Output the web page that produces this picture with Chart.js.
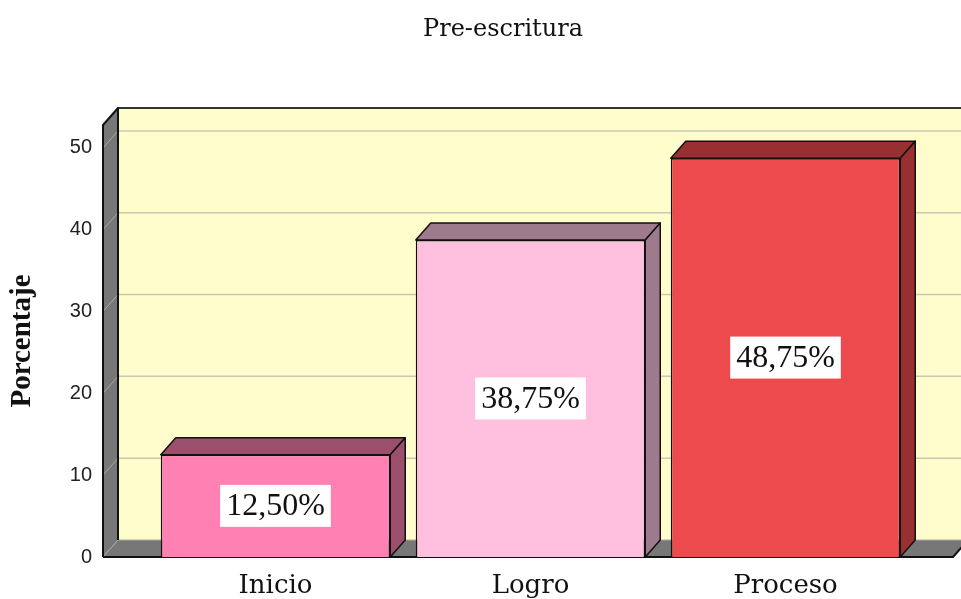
<!DOCTYPE html>
<html lang="es">
<head>
    <meta charset="UTF-8">
    <title>Pre-escritura</title>
    <script src="https://cdn.jsdelivr.net/npm/chart.js"></script>
    <style>
        body { margin: 0; background: #fff; overflow: hidden; }
        #wrap { width: 961px; height: 599px; position: relative; }
    </style>
</head>
<body>
    <div id="wrap"><canvas id="chart"></canvas></div>

    <script>
        // Data
        const chartTitle = "Pre-escritura";
        const categories = ["Inicio", "Logro", "Proceso"];
        const percentages = [12.5, 38.75, 48.75];
        const valueLabels = ["12,50%", "38,75%", "48,75%"];
        const yTicks = [0, 10, 20, 30, 40, 50];

        // Colours of front and shaded faces
        const frontColors = ["#FF80B2", "#FFC0E0", "#EC4A4C"];
        const shadeColors = ["#9B4F6B", "#9F7A8C", "#982F30"];

        const DX = 15, DY = 17; // 3D depth

        // Back wall, left wall, floor and grid lines
        const wallsPlugin = {
            id: "walls",
            beforeDatasetsDraw(chart) {
                const ctx = chart.ctx;
                const a = chart.chartArea;
                const y = chart.scales.y;
                const fl = a.left - 45, fr = a.right + 40;
                ctx.save();
                ctx.lineJoin = "round";

                // back wall
                ctx.fillStyle = "#FFFDCB";
                ctx.fillRect(fl + DX, a.top - DY, fr - fl, a.bottom - a.top);
                ctx.strokeStyle = "#333";
                ctx.lineWidth = 2;
                ctx.beginPath();
                ctx.moveTo(fl + DX, a.top - DY);
                ctx.lineTo(fr + DX, a.top - DY);
                ctx.stroke();

                // grid lines on back wall
                ctx.strokeStyle = "#C9C8B6";
                ctx.lineWidth = 1.5;
                yTicks.forEach(v => {
                    const py = y.getPixelForValue(v);
                    if (v > 0) {
                        ctx.beginPath();
                        ctx.moveTo(fl + DX, py - DY);
                        ctx.lineTo(fr + DX, py - DY);
                        ctx.stroke();
                    }
                });

                // left wall
                ctx.fillStyle = "#777777";
                ctx.beginPath();
                ctx.moveTo(fl, a.top);
                ctx.lineTo(fl + DX, a.top - DY);
                ctx.lineTo(fl + DX, a.bottom - DY);
                ctx.lineTo(fl, a.bottom);
                ctx.closePath();
                ctx.fill();

                // floor
                ctx.beginPath();
                ctx.moveTo(fl, a.bottom);
                ctx.lineTo(fl + DX, a.bottom - DY);
                ctx.lineTo(fr + DX, a.bottom - DY);
                ctx.lineTo(fr, a.bottom);
                ctx.closePath();
                ctx.fill();

                // diagonal grid lines on the left wall
                ctx.strokeStyle = "#A8A8A8";
                ctx.lineWidth = 1;
                yTicks.forEach(v => {
                    const py = y.getPixelForValue(v);
                    ctx.beginPath();
                    ctx.moveTo(fl, py);
                    ctx.lineTo(fl + DX, py - DY);
                    ctx.stroke();
                });
                ctx.beginPath();
                ctx.moveTo(fl + DX, a.bottom - DY);
                ctx.lineTo(fr + DX, a.bottom - DY);
                ctx.stroke();

                // outlines
                ctx.strokeStyle = "#111";
                ctx.lineWidth = 2;
                ctx.beginPath();
                ctx.moveTo(fl, a.bottom);
                ctx.lineTo(fl, a.top);
                ctx.lineTo(fl + DX, a.top - DY);
                ctx.lineTo(fl + DX, a.bottom - DY);
                ctx.stroke();
                ctx.beginPath();
                ctx.moveTo(fl, a.bottom);
                ctx.lineTo(fr, a.bottom);
                ctx.lineTo(fr + DX, a.bottom - DY);
                ctx.stroke();
                ctx.restore();
            },
            afterDatasetsDraw(chart) {
                const ctx = chart.ctx;
                const meta = chart.getDatasetMeta(0);
                ctx.save();
                ctx.lineJoin = "round";
                ctx.strokeStyle = "#111";
                ctx.lineWidth = 1.5;
                meta.data.forEach((bar, i) => {
                    const p = bar.getProps(["x", "y", "base", "width"], true);
                    const x1 = p.x - p.width / 2, x2 = p.x + p.width / 2;
                    const yt = p.y, yb = p.base;
                    ctx.fillStyle = shadeColors[i];
                    // top face
                    ctx.beginPath();
                    ctx.moveTo(x1, yt);
                    ctx.lineTo(x1 + DX, yt - DY);
                    ctx.lineTo(x2 + DX, yt - DY);
                    ctx.lineTo(x2, yt);
                    ctx.closePath();
                    ctx.fill();
                    ctx.stroke();
                    // side face
                    ctx.beginPath();
                    ctx.moveTo(x2, yt);
                    ctx.lineTo(x2 + DX, yt - DY);
                    ctx.lineTo(x2 + DX, yb - DY);
                    ctx.lineTo(x2, yb);
                    ctx.closePath();
                    ctx.fill();
                    ctx.stroke();

                    // value label
                    ctx.font = "32px 'Liberation Serif'";
                    const tw = ctx.measureText(valueLabels[i]).width;
                    const cy = (yt + yb) / 2;
                    ctx.fillStyle = "#fff";
                    ctx.fillRect(p.x - tw / 2 - 6, cy - 21, tw + 12, 42);
                    ctx.fillStyle = "#111";
                    ctx.textAlign = "center";
                    ctx.textBaseline = "middle";
                    ctx.fillText(valueLabels[i], p.x, cy + 1);
                });
                ctx.restore();
            },
            afterDraw(chart) {
                // chart title, centred like the original
                const ctx = chart.ctx;
                ctx.save();
                ctx.font = "24px 'DejaVu Serif'";
                ctx.fillStyle = "#111";
                ctx.textAlign = "center";
                ctx.textBaseline = "middle";
                ctx.fillText(chartTitle, 503, 30);
                ctx.restore();
            }
        };

        new Chart(document.getElementById("chart"), {
            type: "bar",
            data: {
                labels: categories,
                datasets: [{
                    data: percentages,
                    backgroundColor: frontColors,
                    borderColor: "#111",
                    borderWidth: 1.5,
                    barPercentage: 0.9,
                    categoryPercentage: 1
                }]
            },
            options: {
                responsive: true,
                maintainAspectRatio: false,
                animation: false,
                layout: { padding: { top: 125, right: 48, bottom: 0, left: 0 } },
                plugins: {
                    legend: { display: false },
                    tooltip: { enabled: false },
                    title: { display: false }
                },
                scales: {
                    x: {
                        grid: { display: false, drawTicks: false },
                        border: { display: false },
                        ticks: {
                            padding: 14,
                            color: "#111",
                            font: { family: "DejaVu Serif", size: 26 }
                        },
                        afterFit(scale) { scale.height = 42; }
                    },
                    y: {
                        min: 0,
                        max: 52.8,
                        grid: { display: false, drawTicks: false },
                        border: { display: false },
                        afterBuildTicks(scale) {
                            scale.ticks = yTicks.map(v => ({ value: v }));
                        },
                        ticks: {
                            padding: 56,
                            color: "#222",
                            font: { family: "Liberation Sans", size: 20 }
                        },
                        title: {
                            display: true,
                            text: "Porcentaje",
                            color: "#111",
                            font: { family: "Liberation Serif", size: 29, weight: "bold" },
                            padding: { top: 5, bottom: 0 }
                        },
                        afterFit(scale) {
                            scale.width = 148;
                            scale.paddingTop = 0;
                            scale.paddingBottom = 0;
                        }
                    }
                }
            },
            plugins: [wallsPlugin]
        });
    </script>
</body>
</html>
